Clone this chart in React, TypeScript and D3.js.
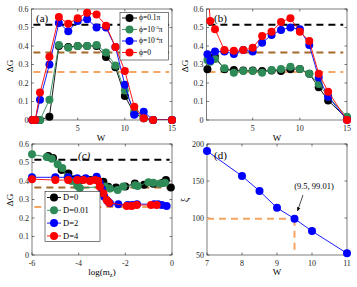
import React from "react";
import * as d3 from "d3";

const FONT = "'Liberation Serif', 'Times New Roman', serif";
const AX = "#262626";
const BROWN = "#a5692b";
const ORANGE = "#f5a462";

// series colours / legend names
const colors = ["#000000", "#2e8b57", "#0000ff", "#ff0000"];
const phiNames = [["ϕ=0.1π"], ["ϕ=10", "-3", "π"], ["ϕ=10", "-4", "π"], ["ϕ=0"]];
const dNames = ["D=0", "D=0.01", "D=2", "D=4"];

// reference levels (dashed)
const levels = [0.515, 0.365, 0.26];
const levelColors = ["#000000", BROWN, ORANGE];

// panel (a) and (b): W
const wAB = [0.2, 0.5, 1, 2, 3, 4, 5, 6, 7, 8, 9, 10, 11, 12, 13, 15];
const aBlack = [0, 0, 0, 0.018, 0.4, 0.395, 0.4, 0.4, 0.4, 0.34, 0.285, 0.13, 0.035, 0.01, 0, 0];
const aGreen = [0, 0, 0, 0.11, 0.405, 0.39, 0.4, 0.4, 0.405, 0.365, 0.295, 0.16, 0.05, 0.01, 0, 0];
const aBlue = [0, 0, 0.11, 0.3, 0.525, 0.48, 0.535, 0.545, 0.5, 0.5, 0.395, 0.19, 0.028, 0.045, 0, 0];
const aRed = [0, 0, 0.148, 0.342, 0.557, 0.52, 0.55, 0.58, 0.57, 0.51, 0.395, 0.265, 0.072, 0.01, 0, 0];

const bBlack = [0.274, 0.335, 0.342, 0.274, 0.27, 0.267, 0.267, 0.265, 0.267, 0.265, 0.275, 0.276, 0.25, 0.177, 0.105, 0.008];
const bGreen = [0.325, 0.315, 0.33, 0.28, 0.256, 0.265, 0.265, 0.256, 0.27, 0.276, 0.288, 0.276, 0.25, 0.195, 0.126, 0.018];
const bBlue = [0.355, 0.32, 0.37, 0.37, 0.357, 0.378, 0.37, 0.417, 0.46, 0.487, 0.5, 0.49, 0.405, 0.23, 0.126, 0];
const bRed = [0.75, 0.535, 0.49, 0.378, 0.375, 0.378, 0.39, 0.454, 0.477, 0.53, 0.55, 0.477, 0.427, 0.25, 0.153, 0];

// panel (c): log(m_z)
const cBlackX = [-5.3, -5.1, -4.73, -4.44, -4.2, -3.9, -3.5, -3.2, -2.94, -2.73, -2.4, -2.0, -1.59, -1.2, -0.8, -0.4, -0.26, -0.05];
const cBlackY = [0.535, 0.525, 0.46, 0.44, 0.41, 0.405, 0.405, 0.41, 0.396, 0.369, 0.365, 0.37, 0.387, 0.38, 0.385, 0.39, 0.405, 0.365];
const cGreenX = [-6, -5.37, -5.15, -4.9, -4.7, -4.47, -4.3, -4.06, -3.95, -2.87, -2.66, -2.33, -2.09, -1.58, -1.47, -1.01, -0.8, -0.51, -0.3];
const cGreenY = [0.544, 0.53, 0.52, 0.49, 0.47, 0.42, 0.4, 0.375, 0.362, 0.37, 0.36, 0.351, 0.37, 0.377, 0.373, 0.393, 0.39, 0.387, 0.39];
const cBlueX = [-6, -5.0, -4.45, -4.06, -3.7, -3.23, -3.1, -3.0, -2.9, -2.75, -2.66, -2.3, -1.9, -1.7, -1.5, -0.77, -0.6, -0.44, -0.23];
const cBlueY = [0.42, 0.42, 0.42, 0.415, 0.415, 0.423, 0.39, 0.355, 0.315, 0.29, 0.28, 0.275, 0.27, 0.27, 0.275, 0.275, 0.275, 0.27, 0.265];
const cRedX = [-6, -5.0, -4.45, -4.06, -3.8, -3.52, -3.3, -3.16, -3.09, -2.94, -2.8, -2.7, -1.94, -1.73, -1.51, -0.9, -0.66];
const cRedY = [0.41, 0.405, 0.405, 0.405, 0.405, 0.4, 0.405, 0.4, 0.369, 0.334, 0.297, 0.283, 0.265, 0.265, 0.27, 0.27, 0.27];

// panel (d): xi vs W
const dW = [7, 8, 8.5, 9, 9.5, 10, 11];
const dXi = [190.5, 156.7, 136.5, 113.7, 99.01, 82.3, 52.3];

const gTicks = [0, 0.1, 0.2, 0.3, 0.4, 0.5, 0.6];

function Frame({ id, x, y, xTicks, yTicks }) {
  const [x0, x1] = x.range();
  const [y0, y1] = y.range();
  const tl = 2.5;
  return (
    <g>
      <defs>
        <clipPath id={id}>
          <rect x={x0} y={y1} width={x1 - x0} height={y0 - y1} />
        </clipPath>
      </defs>
      <rect x={x0} y={y1} width={x1 - x0} height={y0 - y1} fill="white" stroke={AX} strokeWidth={0.6} />
      {xTicks.map((t) => (
        <g key={"x" + t}>
          <line x1={x(t)} x2={x(t)} y1={y0} y2={y0 - tl} stroke={AX} strokeWidth={0.6} />
          <line x1={x(t)} x2={x(t)} y1={y1} y2={y1 + tl} stroke={AX} strokeWidth={0.6} />
          <text x={x(t)} y={y0 + 11} textAnchor="middle" fontSize={8} fill={AX}>{t}</text>
        </g>
      ))}
      {yTicks.map((t) => (
        <g key={"y" + t}>
          <line x1={x0} x2={x0 + tl} y1={y(t)} y2={y(t)} stroke={AX} strokeWidth={0.6} />
          <line x1={x1} x2={x1 - tl} y1={y(t)} y2={y(t)} stroke={AX} strokeWidth={0.6} />
          <text x={x0 - 3} y={y(t)} dy="0.33em" textAnchor="end" fontSize={8} fill={AX}>{t}</text>
        </g>
      ))}
    </g>
  );
}

function Series({ id, x, y, xs, ys, color }) {
  const pts = xs.map((v, i) => [x(v), y(ys[i])]);
  const line = d3.line();
  const [, yTop] = y.range();
  return (
    <g>
      <path d={line(pts)} fill="none" stroke={color} strokeWidth={0.9} clipPath={`url(#${id})`} />
      {pts.filter((p) => p[1] >= yTop - 4).map((p, i) => (
        <circle key={i} cx={p[0]} cy={p[1]} r={4} fill={color} />
      ))}
    </g>
  );
}

function Levels({ x, y, from, to }) {
  return (
    <g>
      {levels.map((l, i) => (
        <line key={i} x1={x(from)} x2={x(to)} y1={y(l)} y2={y(l)}
          stroke={levelColors[i]} strokeWidth={2} strokeDasharray="7,5" />
      ))}
    </g>
  );
}

export default function App() {
  const xa = d3.scaleLinear().domain([0.1, 15]).range([31.5, 172]);
  const ya = d3.scaleLinear().domain([0, 0.6]).range([120, 9]);
  const xb = d3.scaleLinear().domain([0.1, 15]).range([206.5, 347]);
  const yb = ya;
  const xc = d3.scaleLinear().domain([-6, 0]).range([32, 172]);
  const yc = d3.scaleLinear().domain([0, 0.6]).range([255, 144]);
  const xd = d3.scaleLinear().domain([7, 11]).range([207, 347]);
  const yd = d3.scaleLinear().domain([50, 200]).range([255, 144]);

  const aSets = [aBlack, aGreen, aBlue, aRed];
  const bSets = [bBlack, bGreen, bBlue, bRed];
  const cSets = [[cBlackX, cBlackY], [cGreenX, cGreenY], [cBlueX, cBlueY], [cRedX, cRedY]];

  return (
    <svg width={357} height={287} style={{ position: "absolute", left: 0, top: 0 }} fontFamily={FONT}>
      <defs>
        <marker id="arr" viewBox="0 0 10 10" refX="9" refY="5" markerWidth="6" markerHeight="6" orient="auto">
          <path d="M0,1 L10,5 L0,9 z" fill="#000" />
        </marker>
      </defs>

      {/* (a) */}
      <Frame id="ca" x={xa} y={ya} xTicks={[5, 10, 15]} yTicks={gTicks} />
      <Levels x={xa} y={ya} from={0.3} to={14.7} />
      {aSets.map((s, i) => <Series key={i} id="ca" x={xa} y={ya} xs={wAB} ys={s} color={colors[i]} />)}
      <text x={36} y={22} fontSize={11}>(a)</text>
      <g>
        <rect x={120} y={12.5} width={48.5} height={47.5} fill="white" stroke={AX} strokeWidth={0.6} />
        {phiNames.map((n, i) => (
          <g key={i}>
            <line x1={122} x2={137} y1={18 + i * 11.5} y2={18 + i * 11.5} stroke={colors[i]} strokeWidth={0.9} />
            <circle cx={129.5} cy={18 + i * 11.5} r={4} fill={colors[i]} />
            <text x={139} y={18 + i * 11.5} dy="0.33em" fontSize={7.5}>
              {n[0]}
              {n.length > 1 && <tspan fontSize={5} dy="-3">{n[1]}</tspan>}
              {n.length > 1 && <tspan dy="3">{n[2]}</tspan>}
            </text>
          </g>
        ))}
      </g>
      <text x={101} y={141} textAnchor="middle" fontSize={9}>W</text>
      <text transform="translate(13,66) rotate(-90)" textAnchor="middle" fontSize={9}>ΔG</text>

      {/* (b) */}
      <Frame id="cb" x={xb} y={yb} xTicks={[5, 10, 15]} yTicks={gTicks} />
      <Levels x={xb} y={yb} from={0.3} to={14.6} />
      {bSets.map((s, i) => <Series key={i} id="cb" x={xb} y={yb} xs={wAB} ys={s} color={colors[i]} />)}
      <text x={214} y={22} fontSize={11}>(b)</text>
      <text x={277} y={141} textAnchor="middle" fontSize={9}>W</text>
      <text transform="translate(188,66) rotate(-90)" textAnchor="middle" fontSize={9}>ΔG</text>

      {/* (c) */}
      <Frame id="cc" x={xc} y={yc} xTicks={[-6, -4, -2, 0]} yTicks={gTicks} />
      <Levels x={xc} y={yc} from={-5.9} to={-0.1} />
      {cSets.map((s, i) => <Series key={i} id="cc" x={xc} y={yc} xs={s[0]} ys={s[1]} color={colors[i]} />)}
      <text x={78} y={159} fontSize={11} fontStyle="italic">(c)</text>
      <g>
        <rect x={45} y={191.5} width={55} height={50} fill="white" stroke={AX} strokeWidth={0.6} />
        {dNames.map((n, i) => (
          <g key={i}>
            <line x1={47} x2={61} y1={197.5 + i * 12.8} y2={197.5 + i * 12.8} stroke={colors[i]} strokeWidth={0.9} />
            <circle cx={54} cy={197.5 + i * 12.8} r={4} fill={colors[i]} />
            <text x={63} y={197.5 + i * 12.8} dy="0.33em" fontSize={8.5}>{n}</text>
          </g>
        ))}
      </g>
      <text x={102} y={275} textAnchor="middle" fontSize={9}>
        log(m<tspan fontSize={6.5} dy="2">z</tspan><tspan dy="-2">)</tspan>
      </text>
      <text transform="translate(13,200) rotate(-90)" textAnchor="middle" fontSize={9}>ΔG</text>

      {/* (d) */}
      <Frame id="cd" x={xd} y={yd} xTicks={[7, 8, 9, 10, 11]} yTicks={[50, 100, 150, 200]} />
      <line x1={xd(7)} x2={xd(9.5)} y1={yd(99.01)} y2={yd(99.01)} stroke={ORANGE} strokeWidth={2} strokeDasharray="7,5" />
      <line x1={xd(9.5)} x2={xd(9.5)} y1={yd(99.01)} y2={yd(50)} stroke={ORANGE} strokeWidth={2} strokeDasharray="7,5" />
      <Series id="cd" x={xd} y={yd} xs={dW} ys={dXi} color="#0000ff" />
      <text x={214} y={159} fontSize={11}>(d)</text>
      <text x={314} y={189} textAnchor="middle" fontSize={8.5}>(9.5, 99.01)</text>
      <line x1={303} y1={195} x2={297.5} y2={211} stroke="#000" strokeWidth={0.7} markerEnd="url(#arr)" />
      <text x={277} y={275} textAnchor="middle" fontSize={9}>W</text>
      <text transform="translate(188,200) rotate(-90)" textAnchor="middle" fontSize={10}>ξ</text>
    </svg>
  );
}
